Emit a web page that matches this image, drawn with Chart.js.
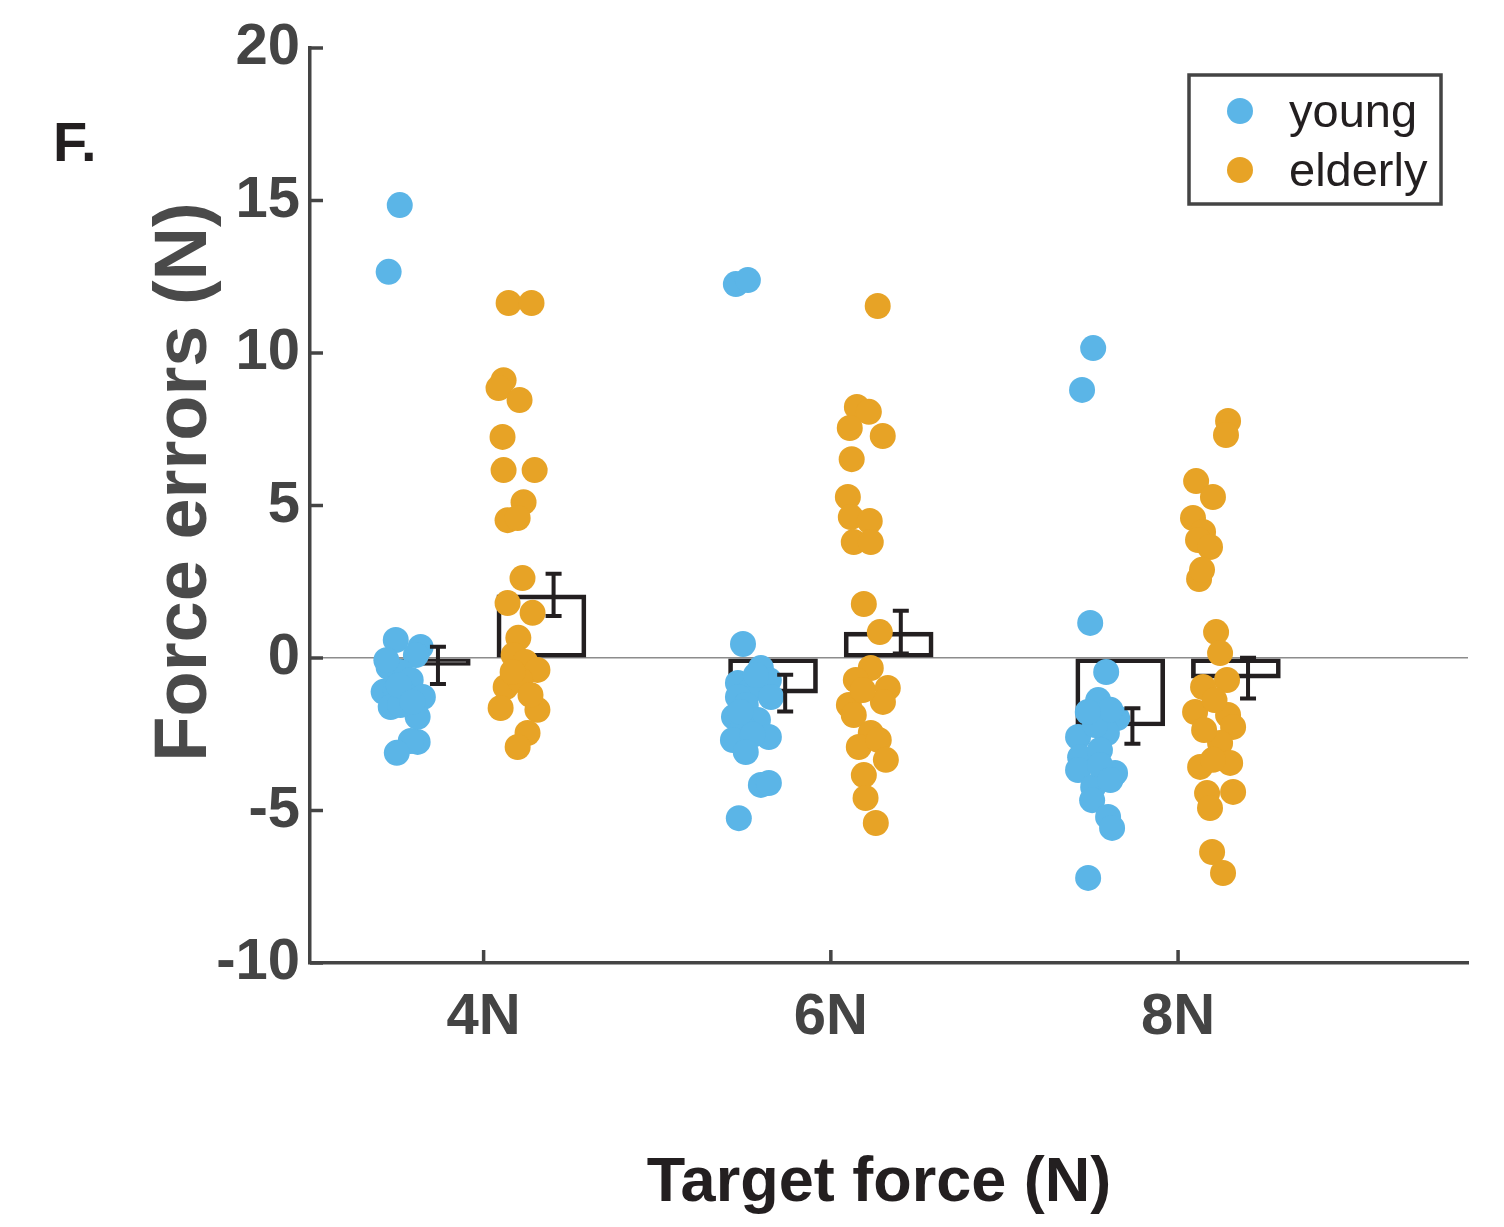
<!DOCTYPE html>
<html>
<head>
<meta charset="utf-8">
<title>Force errors</title>
<script src="https://cdn.jsdelivr.net/npm/chart.js@4.4.1/dist/chart.umd.min.js"></script>
<style>
  html, body { margin: 0; padding: 0; background: #ffffff; }
  #wrap { position: relative; width: 1504px; height: 1227px; }
</style>
</head>
<body>
<div id="wrap"><canvas id="forceChart"></canvas></div>
<script>
// Categories (target force) and x tick labels
const targetForce = [4, 6, 8];
const tickLabels = ['4N', '6N', '8N'];

// Bar heights (mean force error) and standard errors
const youngMean = [-0.24, -1.15, -2.23];
const youngSE = [0.61, 0.60, 0.58];
const elderlyMean = [2.07, 0.85, -0.66];
const elderlySE = [0.69, 0.70, 0.67];

// Individual subjects, young, 4N
const young4X = [3.517, 3.453, 3.494, 3.637, 3.61, 3.453, 3.52, 3.58, 3.424, 3.494, 3.55, 3.65, 3.465, 3.62, 3.52, 3.51, 3.59, 3.62, 3.58, 3.50, 3.44];
const young4Y = [14.85, 12.66, 0.59, 0.36, 0.10, -0.30, -0.46, -0.72, -1.11, -1.05, -1.21, -1.28, -1.61, -1.93, -1.54, -0.89, -1.44, -2.75, -2.72, -3.11, -0.07];
// elderly, 4N
const elderly4X = [4.144, 4.276, 4.115, 4.086, 4.207, 4.109, 4.115, 4.294, 4.23, 4.138, 4.196, 4.224, 4.138, 4.282, 4.20, 4.173, 4.24, 4.31, 4.127, 4.21, 4.098, 4.31, 4.253, 4.196, 4.27, 4.167];
const elderly4Y = [11.64, 11.64, 9.11, 8.85, 8.46, 7.25, 6.16, 6.16, 5.11, 4.52, 4.59, 2.62, 1.80, 1.48, 0.66, 0.10, -0.13, -0.39, -0.95, -0.72, -1.64, -1.70, -2.46, -2.92, -1.21, -0.46];
// young, 6N
const young6X = [5.453, 5.522, 5.494, 5.597, 5.643, 5.465, 5.54, 5.465, 5.655, 5.51, 5.442, 5.58, 5.494, 5.436, 5.643, 5.55, 5.51, 5.597, 5.643, 5.47, 5.568, 5.48];
const young6Y = [12.26, 12.39, 0.46, -0.33, -0.72, -0.82, -1.05, -1.28, -1.28, -1.54, -1.93, -2.03, -2.26, -2.69, -2.59, -2.52, -3.08, -4.16, -4.10, -5.25, -0.56, -1.77];
// elderly, 6N
const elderly6X = [6.27, 6.15, 6.219, 6.109, 6.299, 6.12, 6.098, 6.115, 6.224, 6.132, 6.23, 6.19, 6.282, 6.23, 6.144, 6.328, 6.30, 6.104, 6.132, 6.23, 6.161, 6.276, 6.317, 6.19, 6.20, 6.259, 6.184];
const elderly6Y = [11.54, 8.23, 8.07, 7.54, 7.28, 6.52, 5.28, 4.62, 4.49, 3.80, 3.80, 1.77, 0.85, -0.33, -0.72, -0.98, -1.44, -1.54, -1.87, -2.46, -2.92, -2.69, -3.34, -3.84, -4.59, -5.41, -1.05];
// young, 8N
const young8X = [7.511, 7.447, 7.494, 7.586, 7.54, 7.649, 7.59, 7.424, 7.522, 7.436, 7.55, 7.424, 7.637, 7.511, 7.505, 7.597, 7.62, 7.482, 7.61, 7.48, 7.55, 7.61];
const young8Y = [10.16, 8.79, 1.15, -0.46, -1.38, -1.97, -2.46, -2.59, -2.20, -3.25, -3.02, -3.67, -3.77, -4.23, -4.66, -5.21, -5.57, -7.21, -1.70, -1.77, -3.51, -4.00];
// elderly, 8N
const elderly8X = [8.288, 8.276, 8.104, 8.201, 8.086, 8.144, 8.115, 8.184, 8.121, 8.138, 8.219, 8.242, 8.282, 8.144, 8.098, 8.288, 8.317, 8.242, 8.127, 8.30, 8.201, 8.317, 8.167, 8.184, 8.196, 8.259, 8.21, 8.15];
const elderly8Y = [7.77, 7.31, 5.80, 5.28, 4.59, 4.13, 3.87, 3.64, 2.59, 2.89, 0.85, 0.16, -0.72, -0.95, -1.77, -1.87, -2.26, -2.79, -3.57, -3.44, -3.34, -4.39, -4.43, -4.92, -6.36, -7.05, -1.38, -2.36];

const colors = {
    young: '#5bb5e7',
    elderly: '#e7a326',
    ink: '#231f20',
    axis: '#444444',
    zero: '#8c8c8c'
};

const groupOffset = 0.333;   // bar centre distance from category
const errShift = 0.07;       // error bars sit slightly right of bar centre

function pairs(xs, ys) {
    return xs.map((x, i) => ({ x: x, y: ys[i] }));
}

const youngPoints = [].concat(pairs(young4X, young4Y), pairs(young6X, young6Y), pairs(young8X, young8Y));
const elderlyPoints = [].concat(pairs(elderly4X, elderly4Y), pairs(elderly6X, elderly6Y), pairs(elderly8X, elderly8Y));

const barData = [];
const errData = [];
targetForce.forEach((f, i) => {
    barData.push({ x: f - groupOffset, y: youngMean[i] });
    barData.push({ x: f + groupOffset, y: elderlyMean[i] });
    errData.push({ x: f - groupOffset + errShift, y: youngMean[i], se: youngSE[i] });
    errData.push({ x: f + groupOffset + errShift, y: elderlyMean[i], se: elderlySE[i] });
});

// Error bars, inward ticks, titles, panel letter and legend box
const decorations = {
    id: 'decorations',
    afterDatasetsDraw(chart) {
        const { ctx, scales: { x, y } } = chart;
        ctx.save();
        ctx.strokeStyle = colors.ink;
        ctx.lineWidth = 4;
        errData.forEach(d => {
            const px = x.getPixelForValue(d.x);
            const top = y.getPixelForValue(d.y + d.se);
            const bot = y.getPixelForValue(d.y - d.se);
            ctx.beginPath();
            ctx.moveTo(px, top); ctx.lineTo(px, bot);
            ctx.moveTo(px - 8, top); ctx.lineTo(px + 8, top);
            ctx.moveTo(px - 8, bot); ctx.lineTo(px + 8, bot);
            ctx.stroke();
        });
        ctx.restore();
    },
    afterDraw(chart) {
        const { ctx, chartArea, scales: { x, y } } = chart;
        ctx.save();
        // inward tick marks
        ctx.strokeStyle = colors.axis;
        ctx.lineWidth = 3.5;
        y.ticks.forEach(t => {
            const py = y.getPixelForValue(t.value);
            ctx.beginPath();
            ctx.moveTo(chartArea.left, py);
            ctx.lineTo(chartArea.left + 13, py);
            ctx.stroke();
        });
        x.ticks.forEach(t => {
            const px = x.getPixelForValue(t.value);
            ctx.beginPath();
            ctx.moveTo(px, chartArea.bottom);
            ctx.lineTo(px, chartArea.bottom - 13);
            ctx.stroke();
        });

        // axis titles
        ctx.fillStyle = colors.ink;
        ctx.font = "bold 63px 'Liberation Sans', Arial, sans-serif";
        ctx.textAlign = 'center';
        ctx.textBaseline = 'alphabetic';
        ctx.fillText('Target force (N)', 879, 1201);

        ctx.save();
        ctx.translate(206, 482);
        ctx.rotate(-Math.PI / 2);
        ctx.fillStyle = '#4a4a4a';
        ctx.font = "bold 74px 'Liberation Sans', Arial, sans-serif";
        ctx.fillText('Force errors (N)', 0, 0);
        ctx.restore();

        // panel letter
        ctx.fillStyle = colors.ink;
        ctx.font = "bold 56px 'Liberation Sans', Arial, sans-serif";
        ctx.textAlign = 'left';
        ctx.fillText('F.', 53, 161);

        // legend
        ctx.strokeStyle = colors.axis;
        ctx.lineWidth = 3.5;
        ctx.fillStyle = '#ffffff';
        ctx.fillRect(1189, 75, 252, 129);
        ctx.strokeRect(1189, 75, 252, 129);
        const entries = [['young', colors.young, 111], ['elderly', colors.elderly, 170]];
        ctx.font = "47px 'Liberation Sans', Arial, sans-serif";
        ctx.textBaseline = 'middle';
        entries.forEach(([label, col, py]) => {
            ctx.fillStyle = col;
            ctx.beginPath();
            ctx.arc(1240, py, 13, 0, Math.PI * 2);
            ctx.fill();
            ctx.fillStyle = colors.ink;
            ctx.fillText(label, 1289, py + 3);
        });
        ctx.restore();
    }
};

const tickFont = { family: "'Liberation Sans', Arial, sans-serif", size: 58, weight: 'bold' };

new Chart(document.getElementById('forceChart'), {
    data: {
        datasets: [
            {
                type: 'scatter',
                label: 'young',
                data: youngPoints,
                backgroundColor: colors.young,
                borderWidth: 0,
                pointRadius: 13,
                pointHoverRadius: 13,
                order: 1
            },
            {
                type: 'scatter',
                label: 'elderly',
                data: elderlyPoints,
                backgroundColor: colors.elderly,
                borderWidth: 0,
                pointRadius: 13,
                pointHoverRadius: 13,
                order: 1
            },
            {
                type: 'bar',
                label: 'mean',
                data: barData,
                backgroundColor: 'rgba(255,255,255,0)',
                borderColor: colors.ink,
                borderWidth: 4,
                borderSkipped: false,
                barThickness: 89,
                grouped: false,
                order: 2
            }
        ]
    },
    options: {
        responsive: true,
        maintainAspectRatio: false,
        animation: false,
        layout: { padding: { top: 48, right: 36, left: 0, bottom: 0 } },
        plugins: {
            legend: { display: false },
            tooltip: { enabled: false }
        },
        scales: {
            x: {
                type: 'linear',
                offset: false,
                min: 3,
                max: 9.67,
                afterBuildTicks: scale => {
                    scale.ticks = targetForce.map(v => ({ value: v }));
                },
                afterFit: scale => { scale.height = 264; },
                grid: { display: false, drawTicks: false, offset: false },
                border: { display: true, color: colors.axis, width: 3.5 },
                ticks: {
                    padding: 20,
                    color: colors.axis,
                    font: tickFont,
                    callback: v => tickLabels[targetForce.indexOf(v)]
                }
            },
            y: {
                type: 'linear',
                min: -10,
                max: 20,
                afterFit: scale => { scale.width = 310; },
                grid: {
                    drawTicks: false,
                    color: c => (c.tick && c.tick.value === 0 ? colors.zero : 'rgba(0,0,0,0)'),
                    lineWidth: 1.5
                },
                border: { display: true, color: colors.axis, width: 3.5 },
                ticks: {
                    stepSize: 5,
                    padding: 10,
                    color: colors.axis,
                    font: tickFont
                }
            }
        }
    },
    plugins: [decorations]
});
</script>
</body>
</html>
